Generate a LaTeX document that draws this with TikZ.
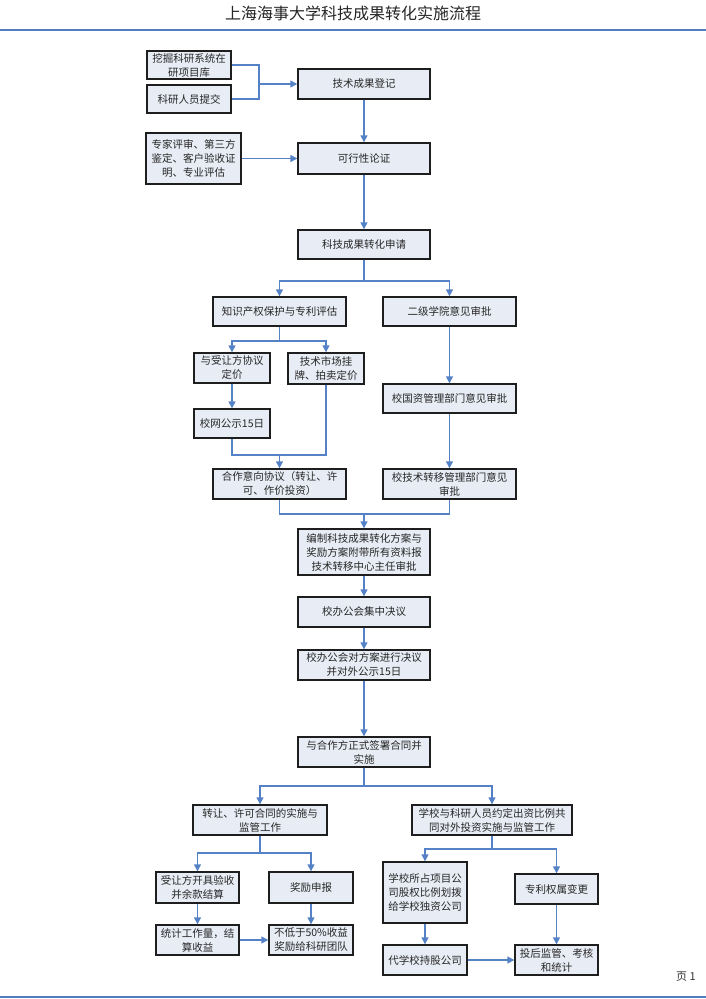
\documentclass[tikz,border=0pt]{standalone}
\usepackage{fontspec}
\setmainfont{Noto Sans CJK SC}
\usetikzlibrary{arrows.meta}
\definecolor{boxfill}{HTML}{E8EDF5}
\definecolor{boxline}{HTML}{1E1E1E}
\definecolor{linkblue}{HTML}{5582C6}
\definecolor{rulecol}{HTML}{4F7FC0}
\begin{document}
\begin{tikzpicture}[x=1pt,y=-1pt,
  bx/.style={draw=boxline, fill=boxfill, line width=1.4pt, inner sep=0pt, align=center,
    font=\fontsize{10.5}{14}\selectfont, text=black!85},
  link/.style={draw=linkblue, line width=1.4pt},
  arr/.style={link, -{Triangle[length=7pt,width=7pt]}},
  rulel/.style={draw=rulecol, line width=1.6pt}]
\useasboundingbox (0,0) rectangle (706,999);
\fill[white] (0,0) rectangle (706,999);
% header / footer
\node[font=\fontsize{16}{18}\selectfont, text=black!85] (title) at (353,13) {上海海事大学科技成果转化实施流程};
\coordinate (tl) at (0,30); \coordinate (tr) at (706,30);
\draw[rulel] (tl) -- (tr);
\coordinate (bl) at (0,997); \coordinate (br) at (706,997);
\draw[rulel] (bl) -- (br);
\node[font=\fontsize{11}{13}\selectfont, text=black!80] (page) at (686,977) {页 1};
% boxes
\node[bx, minimum width=84pt, minimum height=28pt] (b1) at (189,65) {挖掘科研系统在\\研项目库};
\node[bx, minimum width=84pt, minimum height=28pt] (b2) at (189,99) {科研人员提交};
\node[bx, minimum width=132pt, minimum height=30pt] (b3) at (364,84) {技术成果登记};
\node[bx, minimum width=95pt, minimum height=51pt] (b4) at (193.5,158.5) {专家评审、第三方\\鉴定、客户验收证\\明、专业评估};
\node[bx, minimum width=132pt, minimum height=31pt] (b5) at (364,158.5) {可行性论证};
\node[bx, minimum width=132pt, minimum height=29pt] (b6) at (364,244.5) {科技成果转化申请};
\node[bx, minimum width=133pt, minimum height=29pt] (b7) at (279.5,311.5) {知识产权保护与专利评估};
\node[bx, minimum width=133pt, minimum height=29pt] (b8) at (449.5,311.5) {二级学院意见审批};
\node[bx, minimum width=76pt, minimum height=30pt] (b9) at (232,368) {与受让方协议\\定价};
\node[bx, minimum width=76pt, minimum height=31pt] (b10) at (326,368.5) {技术市场挂\\牌、拍卖定价};
\node[bx, minimum width=76pt, minimum height=29pt] (b11) at (232,423.5) {校网公示15日};
\node[bx, minimum width=133pt, minimum height=30pt] (b12) at (279.5,484) {合作意向协议（转让、许\\可、作价投资）};
\node[bx, minimum width=133pt, minimum height=29pt] (b13) at (449.5,398.5) {校国资管理部门意见审批};
\node[bx, minimum width=133pt, minimum height=30pt] (b14) at (449.5,484) {校技术转移管理部门意见\\审批};
\node[bx, minimum width=132pt, minimum height=46pt] (b15) at (364,552) {编制科技成果转化方案与\\奖励方案附带所有资料报\\技术转移中心主任审批};
\node[bx, minimum width=132pt, minimum height=30pt] (b16) at (364,612) {校办公会集中决议};
\node[bx, minimum width=132pt, minimum height=30pt] (b17) at (364,665) {校办公会对方案进行决议\\并对外公示15日};
\node[bx, minimum width=132pt, minimum height=30pt] (b18) at (364,752) {与合作方正式签署合同并\\实施};
\node[bx, minimum width=134pt, minimum height=30pt] (b19) at (260,820) {转让、许可合同的实施与\\监管工作};
\node[bx, minimum width=160pt, minimum height=30pt] (b20) at (492,820) {学校与科研人员约定出资比例共\\同对外投资实施与监管工作};
\node[bx, minimum width=83pt, minimum height=31pt] (b21) at (197.5,887.5) {受让方开具验收\\并余款结算};
\node[bx, minimum width=84pt, minimum height=31pt] (b22) at (311,887.5) {奖励申报};
\node[bx, minimum width=83pt, minimum height=30pt] (b23) at (197.5,940) {统计工作量，结\\算收益};
\node[bx, minimum width=84pt, minimum height=30pt] (b24) at (311,940) {不低于50\%收益\\奖励给科研团队};
\node[bx, minimum width=84pt, minimum height=61pt] (b25) at (425,892.5) {学校所占项目公\\司股权比例划拨\\给学校独资公司};
\node[bx, minimum width=83pt, minimum height=30pt] (b26) at (556.5,889) {专利权属变更};
\node[bx, minimum width=84pt, minimum height=30pt] (b27) at (425,960) {代学校持股公司};
\node[bx, minimum width=83pt, minimum height=30pt] (b28) at (556.5,960) {投后监管、考核\\和统计};
% junctions
\coordinate (j1) at (259,84);
\coordinate (s1) at (364,281);
\coordinate (s2) at (279.5,341);
\coordinate (m1) at (279.5,455);
\coordinate (m2) at (364,514);
\coordinate (s3) at (364,786);
\coordinate (s4) at (260,853);
\coordinate (s5) at (492,849);
% connectors
\draw[link] (b1.east) -| (j1) |- (b2.east);
\draw[arr] (j1) -- (b3.west);
\draw[arr] (b3) -- (b5);
\draw[arr] (b4) -- (b5);
\draw[arr] (b5) -- (b6);
\draw[link] (b6.south) -- (s1);
\draw[arr] (s1) -| (b7.north);
\draw[arr] (s1) -| (b8.north);
\draw[link] (b7.south) -- (s2);
\draw[arr] (s2) -| (b9.north);
\draw[arr] (s2) -| (b10.north);
\draw[arr] (b9) -- (b11);
\draw[link] (b11.south) |- (m1);
\draw[link] (b10.south) |- (m1);
\draw[arr] (m1) -- (b12.north);
\draw[arr] (b8) -- (b13);
\draw[arr] (b13) -- (b14);
\draw[link] (b12.south) |- (m2);
\draw[link] (b14.south) |- (m2);
\draw[arr] (m2) -- (b15.north);
\draw[arr] (b15) -- (b16);
\draw[arr] (b16) -- (b17);
\draw[arr] (b17) -- (b18);
\draw[link] (b18.south) -- (s3);
\draw[arr] (s3) -| (b19.north);
\draw[arr] (s3) -| (b20.north);
\draw[link] (b19.south) -- (s4);
\draw[arr] (s4) -| (b21.north);
\draw[arr] (s4) -| (b22.north);
\draw[arr] (b21) -- (b23);
\draw[arr] (b22) -- (b24);
\draw[arr] (b23) -- (b24);
\draw[link] (b20.south) -- (s5);
\draw[arr] (s5) -| (b25.north);
\draw[arr] (s5) -| (b26.north);
\draw[arr] (b25) -- (b27);
\draw[arr] (b26) -- (b28);
\draw[arr] (b27) -- (b28);
\end{tikzpicture}
\end{document}
